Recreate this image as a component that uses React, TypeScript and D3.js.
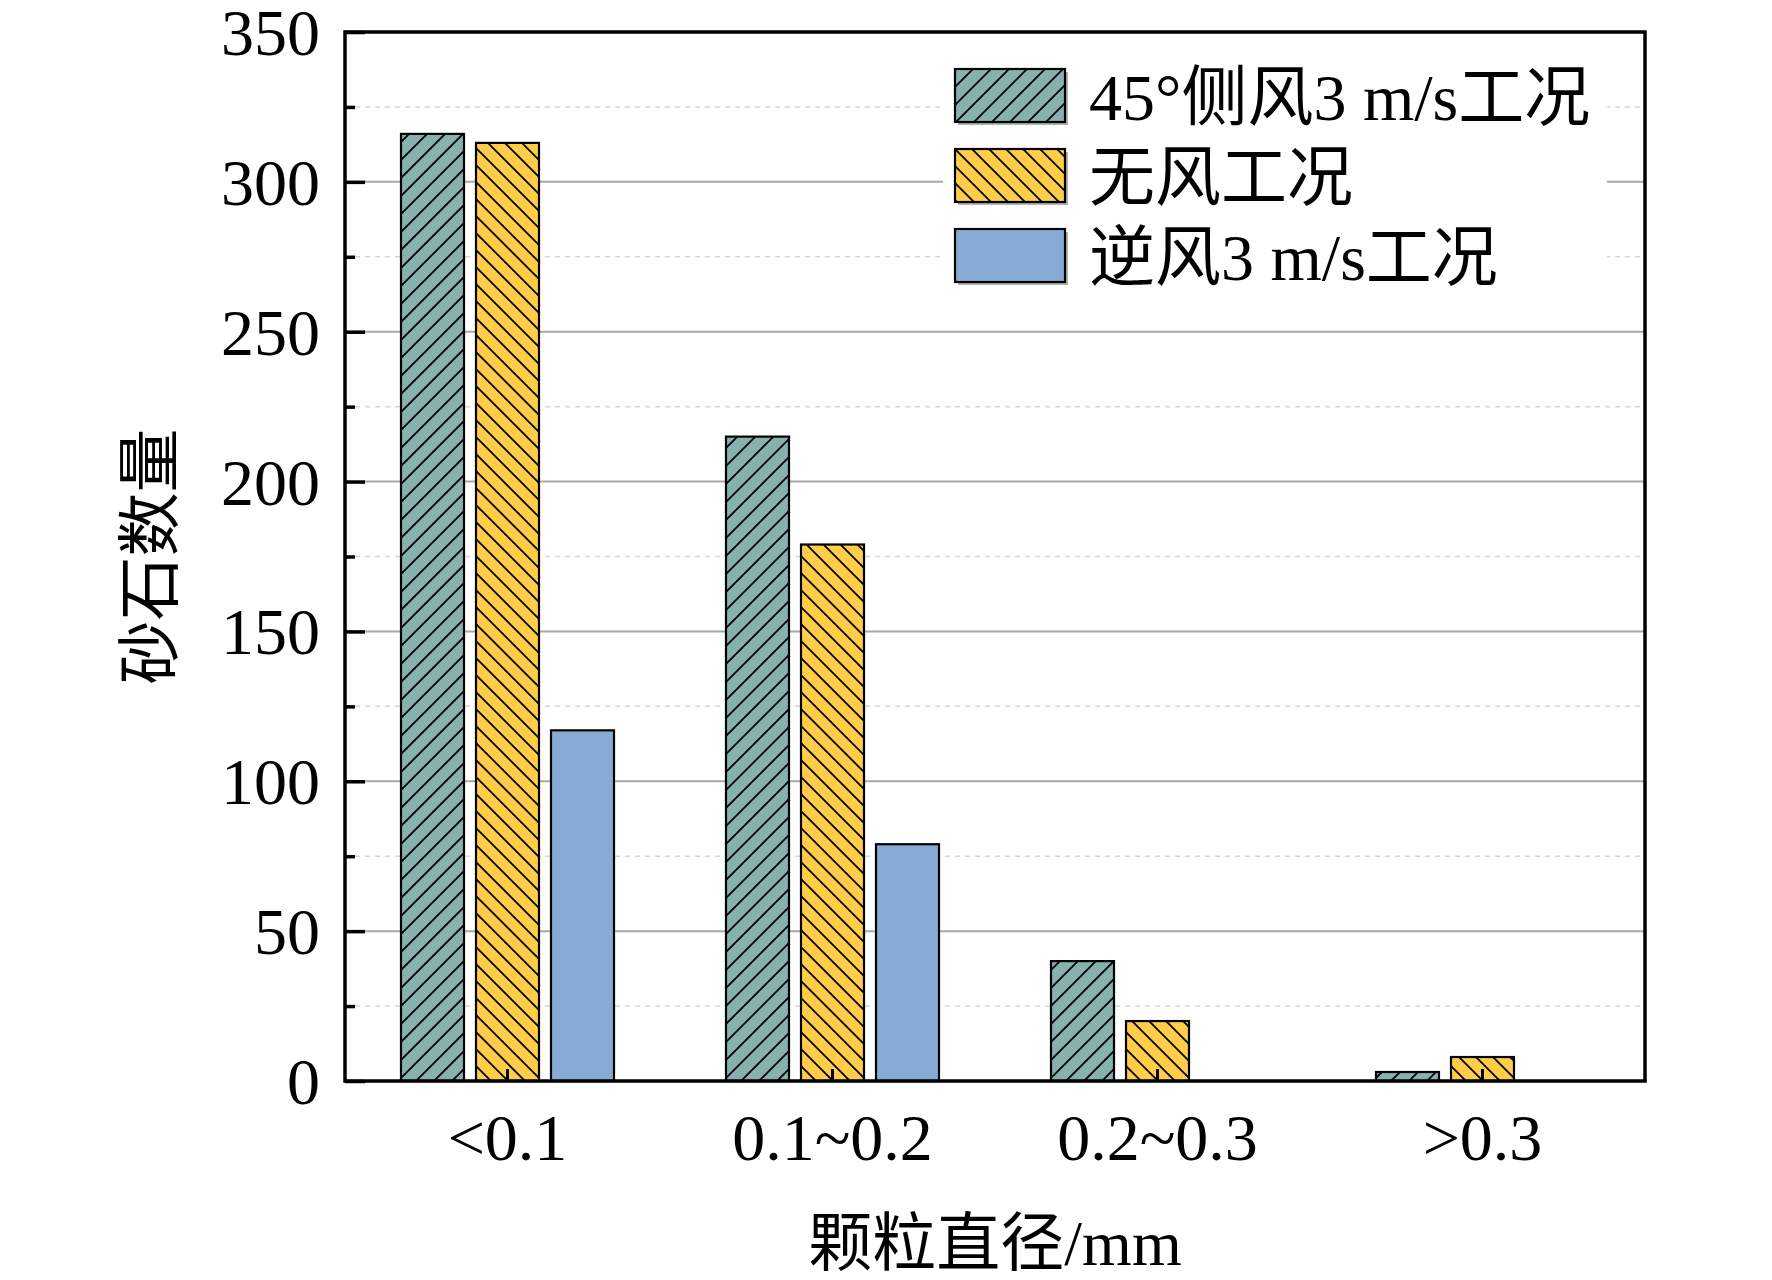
import * as d3 from "d3";
import { useEffect, useRef } from "react";

const categories = ["<0.1", "0.1~0.2", "0.2~0.3", ">0.3"];
const seriesNames = ["45°侧风3 m/s工况", "无风工况", "逆风3 m/s工况"];
const sideWind = [316, 215, 40, 3];
const noWind = [313, 179, 20, 8];
const headWind = [117, 79, 0, 0];
const majorTicks = [0, 50, 100, 150, 200, 250, 300, 350];
const minorTicks = [25, 75, 125, 175, 225, 275, 325];

const FILLS = ["#86b1af", "#ffcd48", "#86acd6"];
const HATCH = ["url(#hatch-fwd)", "url(#hatch-back)", null];
const FONT = "'Liberation Serif', 'Times New Roman', 'Noto Sans CJK SC', serif";

const W = 1772;
const H = 1280;
const M = { left: 345, right: 1645, top: 32, bottom: 1081 };

export default function App() {
  const yAxisRef = useRef<SVGGElement>(null);
  const yMinorRef = useRef<SVGGElement>(null);
  const xAxisRef = useRef<SVGGElement>(null);

  const series = [sideWind, noWind, headWind];

  const x0 = d3.scaleBand<string>().domain(categories).range([M.left, M.right]).padding(0);
  const half = x0.bandwidth() / 2;
  const x1 = d3
    .scaleBand<number>()
    .domain([0, 1, 2])
    .range([half - 106.5, half + 106.5])
    .paddingInner(0.16);
  const y = d3.scaleLinear().domain([0, 350]).range([M.bottom, M.top]);

  useEffect(() => {
    if (!yAxisRef.current || !yMinorRef.current || !xAxisRef.current) return;

    const ya = d3.select(yAxisRef.current);
    ya.call(d3.axisLeft(y).tickValues(majorTicks).tickSize(-20).tickPadding(25).tickFormat(d3.format("d")));
    ya.select(".domain").remove();
    ya.selectAll("line").attr("stroke-width", 3.5);
    ya.selectAll("text").style("font-size", "66px").style("font-family", FONT).attr("fill", "#000").attr("dy", "0.34em");

    const ym = d3.select(yMinorRef.current);
    ym.call(d3.axisLeft(y).tickValues(minorTicks).tickSize(-10).tickFormat(() => ""));
    ym.select(".domain").remove();
    ym.selectAll("line").attr("stroke-width", 3.5);

    const xa = d3.select(xAxisRef.current);
    xa.call(d3.axisBottom(x0).tickSize(-12).tickPadding(32));
    xa.select(".domain").remove();
    xa.selectAll("line").attr("stroke-width", 3);
    xa.selectAll("text").style("font-size", "66px").style("font-family", FONT).attr("fill", "#000");
  }, []);

  return (
    <svg width={W} height={H} style={{ position: "absolute", left: 0, top: 0, background: "#fff" }}>
      <defs>
        <pattern id="hatch-fwd" patternUnits="userSpaceOnUse" width={18} height={18}>
          <rect width={18} height={18} fill={FILLS[0]} />
          <path d="M0,18 L18,0 M-4.5,4.5 L4.5,-4.5 M13.5,22.5 L22.5,13.5" stroke="#000" strokeWidth={1.8} />
        </pattern>
        <pattern id="hatch-back" patternUnits="userSpaceOnUse" width={17} height={17}>
          <rect width={17} height={17} fill={FILLS[1]} />
          <path d="M0,0 L17,17 M-4.25,12.75 L4.25,21.25 M12.75,-4.25 L21.25,4.25" stroke="#000" strokeWidth={1.8} />
        </pattern>
      </defs>

      {/* grid */}
      {minorTicks.map((t) => (
        <line key={`m${t}`} x1={M.left} x2={M.right} y1={y(t)} y2={y(t)} stroke="#d6d6d6" strokeWidth={1.5} strokeDasharray="5,5" />
      ))}
      {majorTicks.slice(1, -1).map((t) => (
        <line key={`g${t}`} x1={M.left} x2={M.right} y1={y(t)} y2={y(t)} stroke="#a8a8a8" strokeWidth={2} />
      ))}

      {/* bars */}
      {categories.map((c, ci) => (
        <g key={c} transform={`translate(${x0(c)},0)`}>
          {series.map((s, si) =>
            s[ci] > 0 ? (
              <rect
                key={si}
                x={x1(si)}
                y={y(s[ci])}
                width={x1.bandwidth()}
                height={y(0) - y(s[ci])}
                fill={HATCH[si] ?? FILLS[si]}
                stroke="#000"
                strokeWidth={2.2}
              />
            ) : null
          )}
        </g>
      ))}

      {/* legend */}
      <rect x={943} y={45} width={664} height={255} fill="#fff" />
      {seriesNames.map((name, i) => (
        <g key={name} transform={`translate(955,${69 + i * 80})`}>
          <rect x={3} y={3} width={110} height={53} fill="#b0b0b0" />
          <rect width={110} height={53} fill={HATCH[i] ?? FILLS[i]} stroke="#000" strokeWidth={2.2} />
          <text x={134} y={51} fontSize={66} fontFamily={FONT} fill="#000">
            {name}
          </text>
        </g>
      ))}

      {/* frame */}
      <rect x={M.left} y={M.top} width={M.right - M.left} height={M.bottom - M.top} fill="none" stroke="#000" strokeWidth={3.5} />

      <g ref={yMinorRef} transform={`translate(${M.left},0)`} />
      <g ref={yAxisRef} transform={`translate(${M.left},0)`} />
      <g ref={xAxisRef} transform={`translate(0,${M.bottom})`} />

      {/* titles */}
      <text
        transform={`translate(172,${(M.top + M.bottom) / 2}) rotate(-90)`}
        textAnchor="middle"
        fontSize={64}
        fontFamily={FONT}
        fill="#000"
      >
        砂石数量
      </text>
      <text x={(M.left + M.right) / 2} y={1265} textAnchor="middle" fontSize={64} fontFamily={FONT} fill="#000">
        颗粒直径/mm
      </text>
    </svg>
  );
}
